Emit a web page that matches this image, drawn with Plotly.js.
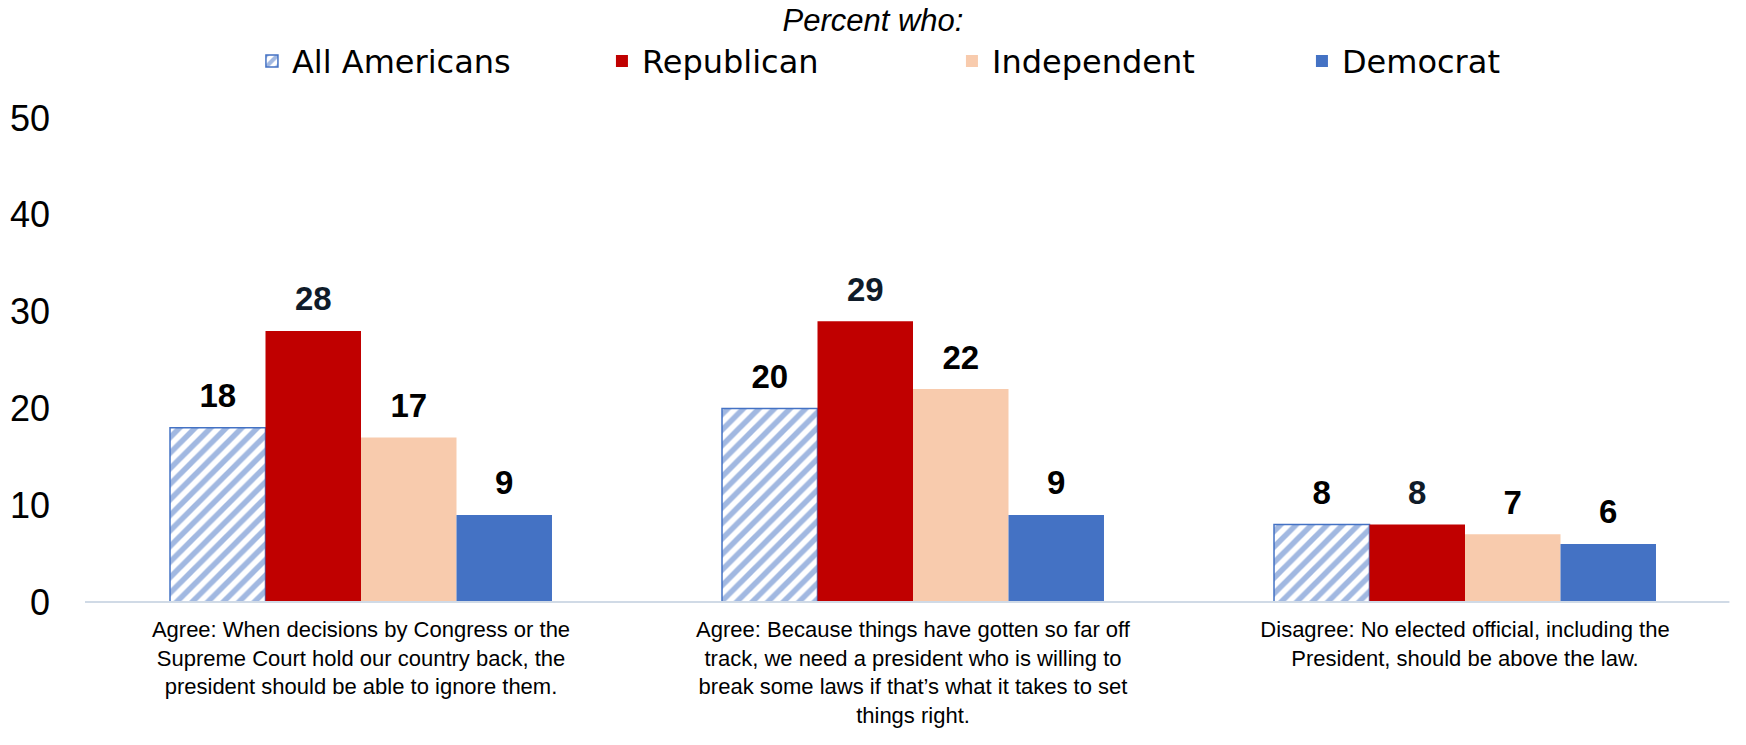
<!DOCTYPE html>
<html>
<head>
<meta charset="utf-8">
<script src="https://cdn.plot.ly/plotly-3.0.1.min.js"></script>
<style>html,body{margin:0;padding:0;background:#fff;}#chart{width:1746px;height:745px;}</style>
</head>
<body>
<div id="chart"></div>
<script>
const categories = [
  "Agree: When decisions by Congress or the<br>Supreme Court hold our country back, the<br>president should be able to ignore them.",
  "Agree: Because things have gotten so far off<br>track, we need a president who is willing to<br>break some laws if that\u2019s what it takes to set<br>things right.",
  "Disagree: No elected official, including the<br>President, should be above the law."
];
const seriesNames = ["All Americans", "Republican", "Independent", "Democrat"];
const allAmericans = [18, 20, 8];
const republican = [28, 29, 8];
const independent = [17, 22, 7];
const democrat = [9, 9, 6];
const yTicks = [0, 10, 20, 30, 40, 50];

const font = "Liberation Sans, Arial, sans-serif";
const seriesValues = [allAmericans, republican, independent, democrat];
const markers = [
  {color: "#ffffff", line: {color: "#4472c4", width: 1.5},
   pattern: {shape: "/", fgcolor: "#4472c4", bgcolor: "#ffffff", size: 11, solidity: 0.5, fillmode: "overlay"}},
  {color: "#c00000"},
  {color: "#f8cbad"},
  {color: "#4472c4"}
];
const labelColors = ["#000000", "#0f1b29", "#000000", "#000000"];
const data = [];
seriesNames.forEach((name, i) => {
  data.push({type: "bar", name: name, x: categories, y: seriesValues[i], marker: markers[i],
             offsetgroup: "g" + i, hoverinfo: "skip"});
});
seriesNames.forEach((name, i) => {
  data.push({type: "scatter", mode: "markers+text", name: name + " label", showlegend: false,
             x: categories, y: seriesValues[i], offsetgroup: "g" + i,
             marker: {size: 18, opacity: 0, color: "#ffffff"},
             text: seriesValues[i].map(v => "<b>" + v + "</b>"), textposition: "top center",
             textfont: {family: font, size: 33, color: labelColors[i]},
             cliponaxis: false, hoverinfo: "skip"});
});
const layout = {
  width: 1746, height: 745,
  margin: {l: 85, r: 5, t: 118, b: 143},
  paper_bgcolor: "#ffffff", plot_bgcolor: "#ffffff",
  font: {family: font, color: "#000000"},
  barmode: "group", bargap: 0.308, bargroupgap: 0,
  scattermode: "group", scattergap: 0.308,
  title: {text: "<i>Percent who:</i>", font: {family: font, size: 31, color: "#000000"},
          xref: "container", x: 0.5, xanchor: "center", yref: "container", y: 0.973, yanchor: "middle"},
  showlegend: true,
  legend: {orientation: "h", xref: "container", x: 0.1443, xanchor: "left", yref: "container", y: 0.918, yanchor: "middle",
           font: {family: "DejaVu Sans, sans-serif", size: 32, color: "#000000"}, itemwidth: 30, traceorder: "normal",
           entrywidthmode: "pixels", entrywidth: 305},
  xaxis: {showline: false, ticks: "", showgrid: false, zeroline: false,
          tickfont: {family: font, size: 22, color: "#000000"}, ticklabelstandoff: 12, fixedrange: true},
  yaxis: {range: [0, 50], tickvals: yTicks, showgrid: false, zeroline: false, showline: false, ticks: "",
          tickfont: {family: font, size: 36, color: "#000000"}, ticklabelstandoff: 34, fixedrange: true},
  shapes: [{type: "line", xref: "paper", yref: "paper", x0: 0, x1: 0.993, y0: 0, y1: 0,
            line: {color: "#d0dae6", width: 2}}]
};
Plotly.newPlot("chart", data, layout, {displayModeBar: false, staticPlot: true});
</script>
</body>
</html>
